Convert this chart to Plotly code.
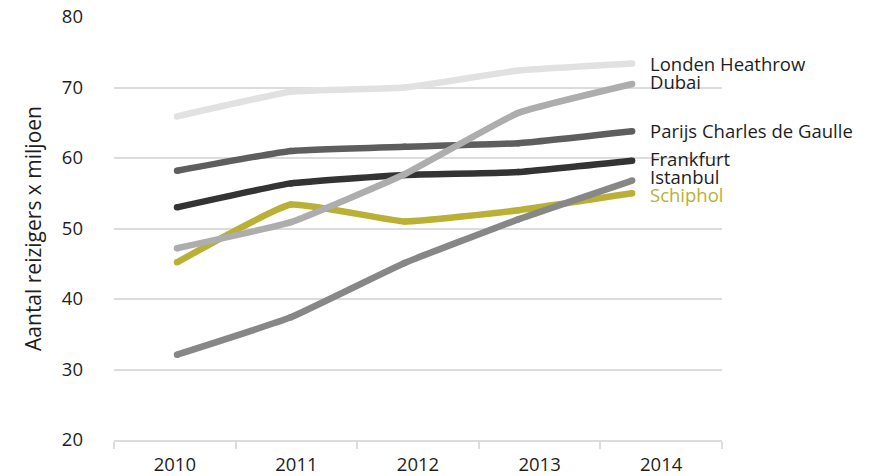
import plotly.graph_objects as go

years = [2010, 2011, 2012, 2013, 2014]
year_labels = ["2010", "2011", "2012", "2013", "2014"]

heathrow = [65.9, 69.4, 70.0, 72.4, 73.4]
dubai = [47.2, 50.9, 57.7, 66.4, 70.5]
parijs = [58.2, 61.0, 61.6, 62.1, 63.8]
frankfurt = [53.0, 56.4, 57.6, 58.0, 59.6]
istanbul = [32.1, 37.4, 45.1, 51.3, 56.8]
schiphol = [45.2, 53.4, 51.0, 52.6, 55.0]

# drawing order: bottom first
series = [
    ("Schiphol", schiphol, "#b9b035", "#b9b035", 54.8),
    ("Frankfurt", frankfurt, "#333333", "#1e1e1e", 60.0),
    ("Parijs Charles de Gaulle", parijs, "#5e5e5e", "#1e1e1e", 63.9),
    ("Istanbul", istanbul, "#878787", "#1e1e1e", 57.4),
    ("Dubai", dubai, "#adadad", "#1e1e1e", 70.8),
    ("Londen Heathrow", heathrow, "#e1e1e1", "#1e1e1e", 73.4),
]

FONT = "Open Sans"
GRID = "#dcdcdc"

fig = go.Figure()

for name, vals, color, _, _ in series:
    fig.add_trace(go.Scatter(
        x=years, y=vals, mode="lines+markers", name=name,
        line=dict(color=color, width=6.5, shape="spline", smoothing=0.35),
        marker=dict(color=color, size=6.5),
        showlegend=False, hoverinfo="x+y+name",
    ))

# category axis that carries the year labels and boundary ticks
fig.add_trace(go.Scatter(
    x=year_labels, y=[None] * len(year_labels), xaxis="x2",
    showlegend=False, hoverinfo="skip",
))

for name, vals, _, tcolor, ylab in series:
    fig.add_annotation(
        x=years[-1], y=ylab, xref="x", yref="y", text=name,
        showarrow=False, xanchor="left", yanchor="middle", xshift=16,
        font=dict(family=FONT, size=18.5, color=tcolor),
    )

fig.update_layout(
    width=874, height=476,
    margin=dict(l=114, r=152, t=17, b=36),
    plot_bgcolor="white", paper_bgcolor="white",
    font=dict(family=FONT, size=18.5, color="#1e1e1e"),
    xaxis=dict(
        range=[2009.446, 2014.79], visible=False, showgrid=False, zeroline=False,
        automargin=False,
    ),
    xaxis2=dict(
        type="category", overlaying="x", side="bottom",
        categoryarray=year_labels, range=[-0.5, 4.5], automargin=False,
        showgrid=False, zeroline=False, showline=True, linecolor=GRID, linewidth=1.5,
        ticks="outside", tickson="boundaries", ticklen=7, tickwidth=1.5,
        ticklabelstandoff=7,
        tickcolor=GRID, tickfont=dict(family=FONT, size=18.5, color="#1e1e1e"),
    ),
    yaxis=dict(
        range=[20, 80], dtick=10, showgrid=True, gridcolor=GRID, gridwidth=1.5,
        zeroline=False, showline=False, ticks="", ticklabelstandoff=30,
        automargin=False,
        tickfont=dict(family=FONT, size=18.5, color="#1e1e1e"),
        title=dict(text="Aantal reizigers x miljoen", standoff=14,
                   font=dict(family=FONT, size=21, color="#1e1e1e")),
    ),
)

# drop the default 8px page margin so the figure sits at the window corner
fig.write_html(
    "out.html",
    config={"displayModeBar": False},
    post_script="document.body.style.margin = '0';",
)
